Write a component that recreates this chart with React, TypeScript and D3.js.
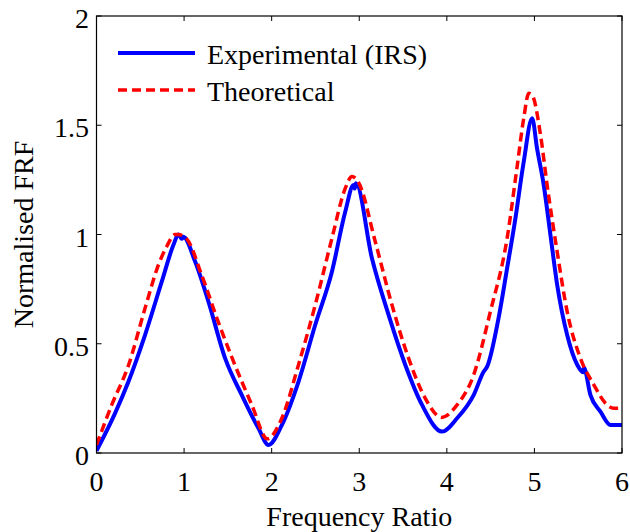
import React from "react";
import * as d3 from "d3";

const expX = [0, 0.21, 0.364, 0.554, 0.745, 0.878, 0.935, 0.955, 0.972, 0.99, 1.126, 1.278, 1.469, 1.659, 1.849, 1.963, 2.116, 2.306, 2.497, 2.688, 2.84, 2.935, 2.948, 2.962, 3.145, 3.335, 3.526, 3.717, 3.945, 4.117, 4.306, 4.42, 4.46, 4.59, 4.688, 4.783, 4.878, 4.974, 5.03, 5.106, 5.183, 5.26, 5.374, 5.49, 5.555, 5.565, 5.64, 5.754, 5.869, 6.0];
const expY = [0.01, 0.18, 0.326, 0.54, 0.784, 0.952, 1.0, 0.99, 0.98, 0.99, 0.876, 0.693, 0.433, 0.265, 0.113, 0.037, 0.128, 0.326, 0.586, 0.83, 1.104, 1.227, 1.21, 1.234, 0.891, 0.632, 0.403, 0.22, 0.098, 0.159, 0.265, 0.372, 0.395, 0.616, 0.845, 1.074, 1.333, 1.532, 1.394, 1.227, 0.998, 0.769, 0.54, 0.403, 0.37, 0.39, 0.265, 0.189, 0.128, 0.128];

const theoX = [0, 0.174, 0.364, 0.554, 0.706, 0.8, 0.897, 0.93, 1.03, 1.2, 1.39, 1.55, 1.774, 1.95, 2.116, 2.306, 2.497, 2.688, 2.84, 2.917, 2.99, 3.183, 3.374, 3.564, 3.754, 3.94, 4.117, 4.306, 4.497, 4.688, 4.8, 4.878, 4.935, 4.974, 5.07, 5.145, 5.26, 5.374, 5.526, 5.68, 5.83, 5.906, 6.0];
const theoY = [0.037, 0.22, 0.4, 0.662, 0.86, 0.944, 1.0, 1.0, 0.98, 0.815, 0.6, 0.433, 0.22, 0.065, 0.159, 0.403, 0.677, 0.982, 1.211, 1.265, 1.24, 0.967, 0.677, 0.433, 0.25, 0.163, 0.22, 0.357, 0.647, 0.982, 1.303, 1.532, 1.646, 1.638, 1.455, 1.227, 0.921, 0.647, 0.433, 0.311, 0.22, 0.205, 0.205];

const xTicks = [0, 1, 2, 3, 4, 5, 6];
const yTicks = [0, 0.5, 1, 1.5, 2];
const seriesNames = ["Experimental (IRS)", "Theoretical"];
const xLabel = "Frequency Ratio";
const yLabel = "Normalised FRF";

const W = 630;
const H = 532;
const L = 96.5;
const R = 622;
const T = 16;
const B = 453;
const FONT = '"Liberation Serif", "Times New Roman", Times, serif';

export default function App() {
  const x = d3.scaleLinear().domain([0, 6]).range([L, R]);
  const y = d3.scaleLinear().domain([0, 2]).range([B, T]);
  const line = d3
    .line<[number, number]>()
    .x((d) => x(d[0]))
    .y((d) => y(d[1]))
    .curve(d3.curveMonotoneX);
  const expPts: [number, number][] = expX.map((v, i) => [v, expY[i]]);
  const theoPts: [number, number][] = theoX.map((v, i) => [v, theoY[i]]);
  const tl = 5;
  const txt = { fontFamily: FONT, fontSize: "28px" } as React.CSSProperties;

  return (
    <svg
      width={W}
      height={H}
      style={{ position: "absolute", left: 0, top: 0, background: "#fff" }}
    >
      <rect x={0} y={0} width={W} height={H} fill="#fff" />
      <defs>
        <clipPath id="plotclip">
          <rect x={L} y={T - 2} width={R - L} height={B - T + 4} />
        </clipPath>
      </defs>
      {xTicks.map((t) => (
        <g key={"xt" + t}>
          <line x1={x(t)} x2={x(t)} y1={B} y2={B - tl} stroke="#000" strokeWidth={1} />
          <line x1={x(t)} x2={x(t)} y1={T} y2={T + tl} stroke="#000" strokeWidth={1} />
          <text x={x(t)} y={491} style={txt} textAnchor="middle" fill="#000">
            {t}
          </text>
        </g>
      ))}
      {yTicks.map((t) => (
        <g key={"yt" + t}>
          <line x1={L} x2={L + tl} y1={y(t)} y2={y(t)} stroke="#000" strokeWidth={1} />
          <line x1={R} x2={R - tl} y1={y(t)} y2={y(t)} stroke="#000" strokeWidth={1} />
          <text x={89} y={y(t) + 12} style={txt} textAnchor="end" fill="#000">
            {t}
          </text>
        </g>
      ))}
      <g clipPath="url(#plotclip)">
        <path d={line(expPts) || ""} fill="none" stroke="#0000ff" strokeWidth={4} strokeLinejoin="round" />
        <path
          d={line(theoPts) || ""}
          fill="none"
          stroke="#ff0000"
          strokeWidth={3.5}
          strokeDasharray="9,5"
          strokeLinejoin="round"
        />
      </g>
      <rect x={L} y={T} width={R - L} height={B - T} fill="none" stroke="#000" strokeWidth={1.2} />
      <line x1={118} x2={195} y1={53} y2={53} stroke="#0000ff" strokeWidth={4} />
      <text x={207} y={64} style={txt} fill="#000">
        {seriesNames[0]}
      </text>
      <line x1={118} x2={195} y1={90} y2={90} stroke="#ff0000" strokeWidth={3.5} strokeDasharray="9,5" />
      <text x={207} y={101} style={txt} fill="#000">
        {seriesNames[1]}
      </text>
      <text x={(L + R) / 2} y={526} style={txt} textAnchor="middle" fill="#000">
        {xLabel}
      </text>
      <text
        transform={`translate(33, ${(T + B) / 2}) rotate(-90)`}
        style={txt}
        textAnchor="middle"
        fill="#000"
      >
        {yLabel}
      </text>
    </svg>
  );
}
